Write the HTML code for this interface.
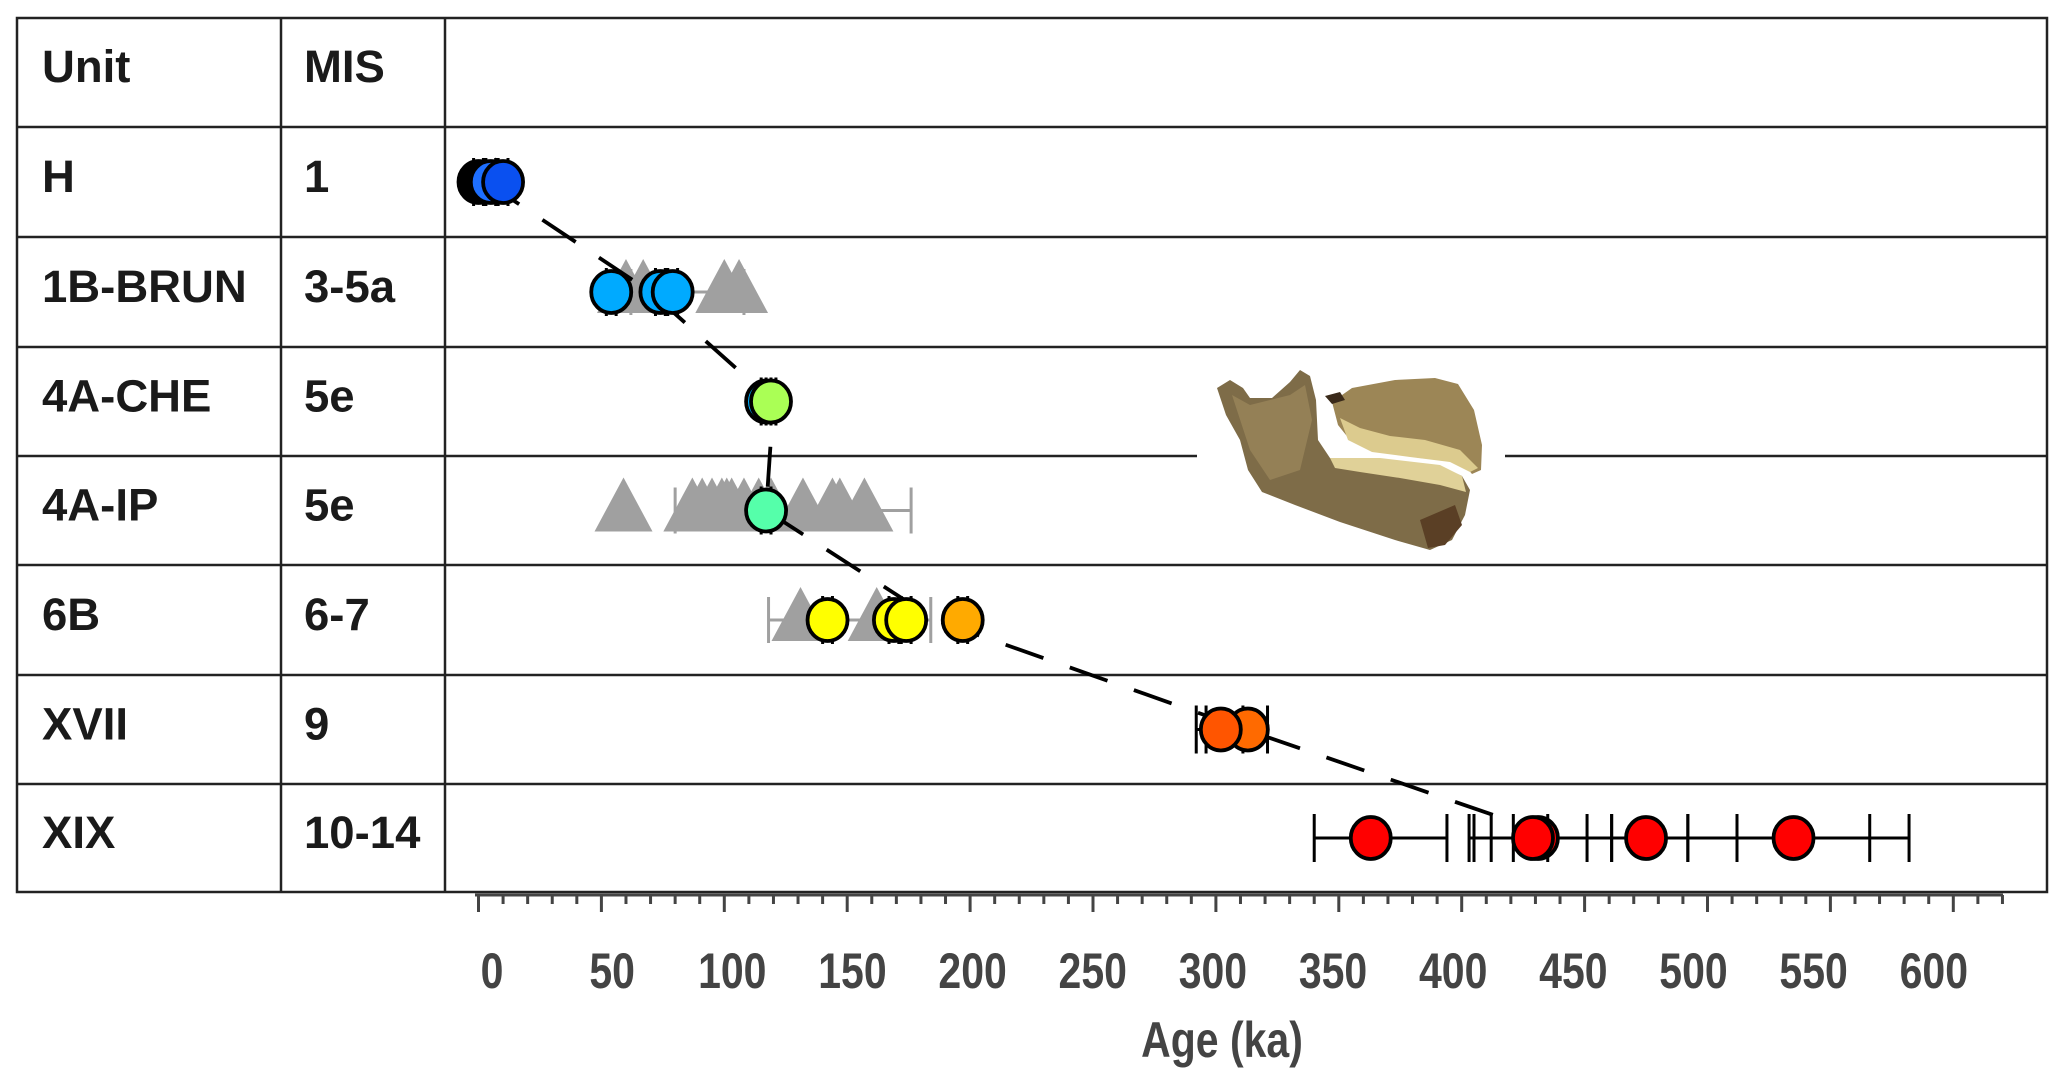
<!DOCTYPE html>
<html><head><meta charset="utf-8"><style>
html,body{margin:0;padding:0;background:#fff;}
svg{display:block;}
</style></head><body>
<svg id="chart" width="2067" height="1085" viewBox="0 0 2067 1085" xmlns="http://www.w3.org/2000/svg">
<rect x="0" y="0" width="2067" height="1085" fill="#fff"/>
<g id="table"></g>
<g id="jaw">
  <rect x="1197" y="360" width="308" height="200" fill="#fff"/>
  <path d="M1332,402 L1352,388 L1395,380 L1435,378 L1458,384 L1474,410 L1482,445 L1481,470 L1472,474 L1462,462 L1420,458 L1380,452 L1350,440 L1338,425 Z" fill="#9c8656"/>
  <path d="M1340,418 L1360,428 L1390,436 L1425,440 L1460,450 L1478,468 L1470,472 L1450,462 L1410,457 L1372,452 L1348,440 Z" fill="#dccb8e"/>
  <path d="M1325,396 L1340,392 L1345,400 L1332,404 Z" fill="#3a2a1a"/>
  <path d="M1217,388 L1230,380 L1243,388 L1250,398 L1272,398 L1290,382 L1300,370 L1310,376 L1316,400 L1318,440 L1330,458 L1380,460 L1440,466 L1462,476 L1470,490 L1465,515 L1452,540 L1430,550 L1395,540 L1340,522 L1295,505 L1262,492 L1248,470 L1240,440 L1226,415 Z" fill="#7e6c48"/>
  <path d="M1232,395 L1250,405 L1290,395 L1305,385 L1312,420 L1300,470 L1270,480 L1250,450 Z" fill="#9a865a" opacity="0.8"/>
  <path d="M1330,458 L1380,458 L1440,465 L1462,476 L1466,492 L1440,485 L1400,478 L1360,472 L1335,468 Z" fill="#e0d198"/>
  <path d="M1420,520 L1455,505 L1462,525 L1445,545 L1428,548 Z" fill="#5a3f25"/>
</g>
<g id="plot"></g>
<g id="xaxis"></g>
</svg>
<script>
// ---- data ----
const units = ["H","1B-BRUN","4A-CHE","4A-IP","6B","XVII","XIX"];
const misLabels = ["1","3-5a","5e","5e","6-7","9","10-14"];
const circleRow = [0,0,0, 1,1,1, 2,2, 3, 4,4,4,4, 5,5, 6,6,6,6,6];
const circleAge = [0,5,10, 54,74,79, 117,119, 117, 142,169,174,197, 313,302, 363,431,429,475,535];
const circleLo  = [-2,3,8, 52,72,77, 115,117, 115, 140,167,172,195, 296,292, 340,405,403,421,492];
const circleHi  = [2,7,12, 56,76,81, 119,121, 119, 144,171,176,199, 321,311, 394,451,461,512,582];
const circleFill = ["#000000","#1e6fff","#0a50f0","#00aaff","#00aaff","#00aaff","#00b0ff","#aaff55","#55ffaa","#ffff00","#ffff00","#ffff00","#ffaa00","#ff6a00","#ff5500","#ff0000","#ff0000","#ff0000","#ff0000","#ff0000"];
const extraRow = [6,6,6];
const extraLo = [412,461,512];
const extraHi = [435,492,566];
const triRow = [0, 1,1,1,1, 3,3,3,3,3,3,3,3,3,3,3,3,3,3, 4,4];
const triAge = [7, 60,67,100,106, 59,87,91,95,99,101,103,108,114,119,132,144,147,157, 131,162];
const greyBarRow = [1,3,4];
const greyBarLo = [62,80,118];
const greyBarHi = [108,176,184];
const trendAge = [3,70,120,117,186,312,440];
const tickMajor = [0,50,100,150,200,250,300,350,400,450,500,550,600];
const tickLabels = ["0","50","100","150","200","250","300","350","400","450","500","550","600"];

// ---- scales ----
const X0 = 478.5, PXK = 2.458;
const xs = v => X0 + v * PXK;
const LX0 = 492, LPXK = 2.403;
const xl = v => LX0 + v * LPXK;
const rowTop = [127,237,347,456,565,675,784,892];
const rowC = i => (rowTop[i] + rowTop[i+1]) / 2;
const NS = "http://www.w3.org/2000/svg";
function mk(tag, attrs, parent){ const e=document.createElementNS(NS,tag); for(const k in attrs) e.setAttribute(k,attrs[k]); parent.appendChild(e); return e; }

// ---- table ----
const tb = document.getElementById('table');
const L=17,R=2047,T=18,B=892,C1=281,C2=445;
const hlines=[127,237,347,456,565,675,784];
const outline = mk('rect',{x:L,y:T,width:R-L,height:B-T,fill:'none',stroke:'#222','stroke-width':2.5},tb);


hlines.forEach((y,i)=>{
  if (y===456){
    const a=mk('line',{x1:L,y1:y,x2:1197,y2:y,stroke:'#222','stroke-width':2.5},tb);
    
    
    const b=mk('line',{x1:1505,y1:y,x2:R,y2:y,stroke:'#222','stroke-width':2.5},tb);
    
    
  } else {
    const l=mk('line',{x1:L,y1:y,x2:R,y2:y,stroke:'#222','stroke-width':2.5},tb);
    
    
  }
});
[C1,C2].forEach(x=>{
  const l=mk('line',{x1:x,y1:T,x2:x,y2:B,stroke:'#222','stroke-width':2.5},tb);
  
  
});
function txt(s,x,y,name,parent){
  const t=mk('text',{x:x,y:y,'font-family':'Liberation Sans, Arial, sans-serif','font-weight':'bold','font-size':45.5,fill:'#1a1a1a'},parent);
  t.textContent=s;
  
  
  return t;
}
txt("Unit",42,82,'unit-header',tb);
txt("MIS",304,82,'mis-header',tb);
units.forEach((u,i)=>{
  const by = rowC(i) + 10;
  txt(u,42,by,'unit-label',tb);
  txt(misLabels[i],304,by,'mis-label',tb);
});

// ---- plot ----
const pl = document.getElementById('plot');
greyBarRow.forEach((r,i)=>{
  const y=rowC(r);
  const g=mk('g',{stroke:'#a0a0a0','stroke-width':3},pl);
  
  
  mk('line',{x1:xs(greyBarLo[i]),y1:y,x2:xs(greyBarHi[i]),y2:y},g);
  mk('line',{x1:xs(greyBarLo[i]),y1:y-23,x2:xs(greyBarLo[i]),y2:y+23},g);
  mk('line',{x1:xs(greyBarHi[i]),y1:y-23,x2:xs(greyBarHi[i]),y2:y+23},g);
});
triAge.forEach((a,i)=>{
  const x=xs(a), y=rowC(triRow[i]);
  const small = triRow[i]===0;
  const h = small?34:50, w = small?34:58;
  const p=mk('polygon',{points:`${x},${y-h/2-8} ${x-w/2},${y+h/2-4} ${x+w/2},${y+h/2-4}`,fill:'#a0a0a0'},pl);
  
  
});
let d='';
trendAge.forEach((a,i)=>{ d += (i?'L':'M') + xs(a) + ',' + rowC(i) + ' '; });
const tr=mk('path',{d:d,fill:'none',stroke:'#000','stroke-width':3.8,'stroke-dasharray':'40 28'},pl);


function ebar(r,lo,hi,name){
  const y=rowC(r);
  const g=mk('g',{stroke:'#000','stroke-width':3},pl);
  
  
  mk('line',{x1:xs(lo),y1:y,x2:xs(hi),y2:y},g);
  mk('line',{x1:xs(lo),y1:y-24,x2:xs(lo),y2:y+24},g);
  mk('line',{x1:xs(hi),y1:y-24,x2:xs(hi),y2:y+24},g);
}
circleAge.forEach((a,i)=>ebar(circleRow[i],circleLo[i],circleHi[i],'date-error-bar'));
extraRow.forEach((r,i)=>ebar(r,extraLo[i],extraHi[i],'date-error-bar'));
circleAge.forEach((a,i)=>{
  const c=mk('ellipse',{cx:xs(a),cy:rowC(circleRow[i]),rx:20,ry:21,fill:circleFill[i],stroke:'#000','stroke-width':3.8},pl);
  
  
});

// ---- x axis ----
const ax = document.getElementById('xaxis');
const axY = 895;
const al=mk('line',{x1:475,y1:axY,x2:2003,y2:axY,stroke:'#444','stroke-width':3},ax);


for(let v=0; v<=620; v+=10){
  const major = v%50===0;
  const t=mk('line',{x1:xs(v),y1:axY,x2:xs(v),y2:axY+(major?17:9),stroke:'#444','stroke-width':3},ax);
  
  
}
const SX = 0.82;
tickMajor.forEach((v,i)=>{
  const t=mk('text',{x:xl(v)/SX,y:988,transform:`scale(${SX},1)`,'text-anchor':'middle','font-family':'Liberation Sans, Arial, sans-serif','font-weight':'bold','font-size':50,fill:'#444'},ax);
  t.textContent=tickLabels[i];
  
  
});
const xt=mk('text',{x:1222/SX,y:1057,transform:`scale(${SX},1)`,'text-anchor':'middle','font-family':'Liberation Sans, Arial, sans-serif','font-weight':'bold','font-size':50,fill:'#444'},ax);
xt.textContent='Age (ka)';


</script>
</body></html>
